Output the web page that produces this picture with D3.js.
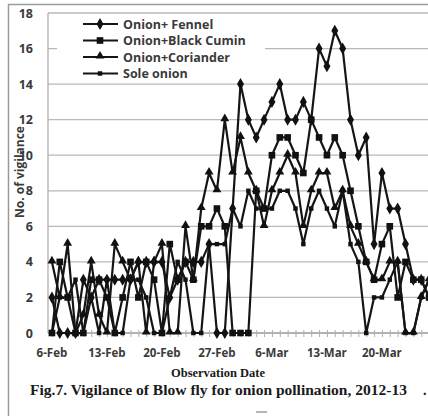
<!DOCTYPE html>
<html lang="en">
<head>
<meta charset="UTF-8">
<title>Vigilance of Blow fly</title>
<style>
    body {
        margin: 0;
        padding: 0;
        background-color: white;
    }
    svg {
        display: block;
    }
    .tick-label {
        font-family: "Open Sans", "Noto Sans", sans-serif;
        font-weight: bold;
        fill: #3a3a3a;
    }
    .serif {
        font-family: "Liberation Serif", "DejaVu Serif", serif;
        font-weight: bold;
        fill: #1a1a1a;
    }
</style>
</head>
<body>
<svg id="chart" width="428" height="416"></svg>

<script src="https://d3js.org/d3.v7.min.js"></script>
<script>
    // observation days, 6-Feb .. 26-Mar (daily)
    const firstDay = new Date(2013, 1, 6);
    const lastDay = new Date(2013, 2, 26);
    const days = d3.timeDay.range(firstDay, d3.timeDay.offset(lastDay, 1));

    const tickLabels = ["6-Feb", "13-Feb", "20-Feb", "27-Feb", "6-Mar", "13-Mar", "20-Mar"];
    const yTicks = [0, 2, 4, 6, 8, 10, 12, 14, 16, 18];

    const seriesNames = ["Onion+ Fennel", "Onion+Black Cumin", "Onion+Coriander", "Sole onion"];

    const fennel = [2, 0, 0, 0, 3, 2, 3, 3, 3, 3, 3, 4, 4, 4, 4, 2, 3, 4, 4, 4,
        5, 0, 0, 7, 14, 12, 11, 12, 13, 14, 12, 12, 13, 12, 16, 15, 17, 16, 12, 10,
        11, 5, 9, 7, 7, 5, 3, 3, 2];
    const blackCumin = [0, 4, 2, 0, 0, 3, 3, 2, 0, 2, 4, 2, 4, 3, 0, 5, 3, 4, 3, 6,
        6, 7, 6, 0, 0, 0, 8, 7, 10, 11, 11, 10, 9, 12, 11, 10, 11, 10, 8, 6,
        4, 3, 5, 6, 2, 4, 3, 3, 2];
    const coriander = [4, 2, 5, 0, 1, 4, 1, 0, 5, 4, 3, 4, 0, 4, 5, 0, 0, 6, 3, 7,
        9, 8, 12, 9, 11, 9, 8, 6, 8, 9, 10, 9, 6, 8, 9, 9, 7, 8, 6, 5,
        4, 3, 3, 4, 4, 0, 0, 2, 3];
    const soleOnion = [0, 2, 2, 3, 0, 2, 0, 3, 0, 0, 3, 3, 2, 0, 0, 2, 4, 3, 0, 0,
        5, 5, 5, 7, 6, 8, 7, 7, 7, 8, 8, 7, 5, 7, 8, 7, 6, 8, 5, 4,
        0, 2, 2, 3, 4, 0, 0, 2, 3];

    const allSeries = [fennel, blackCumin, coriander, soleOnion];
    const symbols = [d3.symbolDiamond, d3.symbolSquare, d3.symbolTriangle, d3.symbolSquare];
    const symbolSizes = [42, 44, 34, 20];

    const svg = d3.select("#chart");
    const plotLeft = 48, plotTop = 13, plotBottom = 333;

    const halfDay = 12 * 3600 * 1000;
    const x = d3.scaleTime()
        .domain([new Date(firstDay - halfDay), new Date(+lastDay + halfDay)])
        .range([plotLeft, 433]);
    const y = d3.scaleLinear().domain([0, 18]).range([plotBottom, plotTop]);

    // outer frame
    svg.append("path")
        .attr("d", "M8.5,416V4.5H428")
        .attr("fill", "none")
        .attr("stroke", "#9a9a9a")
        .attr("stroke-width", 1.5);

    // gridlines
    svg.append("g").selectAll("line")
        .data(yTicks)
        .enter().append("line")
        .attr("x1", plotLeft).attr("x2", 428)
        .attr("y1", d => y(d)).attr("y2", d => y(d))
        .attr("stroke", d => d === 0 ? "#9a9a9a" : "#b9b9b9")
        .attr("stroke-width", 1.3);

    // y axis line
    svg.append("line")
        .attr("x1", plotLeft).attr("x2", plotLeft)
        .attr("y1", plotTop).attr("y2", plotBottom)
        .attr("stroke", "#b0b0b0")
        .attr("stroke-width", 1.3);

    // y axis labels
    svg.append("g").selectAll("text")
        .data(yTicks)
        .enter().append("text")
        .attr("class", "tick-label")
        .attr("x", 33)
        .attr("y", d => y(d) + 4.5)
        .attr("text-anchor", "end")
        .attr("font-size", 12.5)
        .text(d => d);

    // x axis minor ticks (one per day) and labels
    const xAxis = d3.axisBottom(x)
        .tickValues(days.concat([lastDay]))
        .tickSize(4)
        .tickFormat("");
    svg.append("g")
        .attr("transform", `translate(0,${plotBottom})`)
        .call(xAxis)
        .call(g => g.select(".domain").remove())
        .call(g => g.selectAll(".tick line").attr("stroke", "#b0b0b0").attr("y1", -3));

    const labelDays = tickLabels.map((t, i) => d3.timeDay.offset(firstDay, i * 7));
    svg.append("g").selectAll("text")
        .data(labelDays)
        .enter().append("text")
        .attr("class", "tick-label")
        .attr("x", d => x(d))
        .attr("y", 357)
        .attr("text-anchor", "middle")
        .attr("font-size", 11.5)
        .text((d, i) => tickLabels[i]);

    // axis titles
    svg.append("text")
        .attr("class", "tick-label")
        .attr("transform", "translate(24,172) rotate(-90)")
        .attr("text-anchor", "middle")
        .attr("font-size", 12)
        .text("No. of vigilance");

    svg.append("text")
        .attr("class", "serif")
        .attr("x", 218)
        .attr("y", 377)
        .attr("text-anchor", "middle")
        .attr("font-size", 12.5)
        .text("Observation Date");

    svg.append("text")
        .attr("class", "serif")
        .attr("x", 30)
        .attr("y", 395)
        .attr("font-size", 14)
        .attr("textLength", 377)
        .attr("lengthAdjust", "spacingAndGlyphs")
        .text("Fig.7. Vigilance of Blow fly for onion pollination, 2012-13");

    svg.append("text")
        .attr("class", "serif")
        .attr("x", 423)
        .attr("y", 395)
        .attr("font-size", 14)
        .text(".");

    svg.append("line")
        .attr("x1", 256).attr("x2", 267)
        .attr("y1", 412).attr("y2", 412)
        .attr("stroke", "#888")
        .attr("stroke-width", 1.2);

    // legend background hides the gridlines under it
    svg.append("rect")
        .attr("x", 57).attr("y", 15)
        .attr("width", 208).attr("height", 66)
        .attr("fill", "white");

    // series lines and markers
    const line = d3.line()
        .x((d, i) => x(days[i]))
        .y(d => y(d));

    const plot = svg.append("g");
    allSeries.forEach((values, s) => {
        plot.append("path")
            .datum(values)
            .attr("d", line)
            .attr("fill", "none")
            .attr("stroke", "#151515")
            .attr("stroke-width", 2.2)
            .attr("stroke-linejoin", "round");
    });
    allSeries.forEach((values, s) => {
        plot.append("g").selectAll("path")
            .data(values)
            .enter().append("path")
            .attr("transform", (d, i) => {
                const yy = s === 2 ? y(d) - 1 : y(d);
                return `translate(${x(days[i])},${yy})`;
            })
            .attr("d", d3.symbol().type(symbols[s]).size(symbolSizes[s]))
            .attr("fill", "#111");
    });

    // legend
    const legend = svg.append("g");
    seriesNames.forEach((name, s) => {
        const ly = 24 + s * 16.5;
        legend.append("line")
            .attr("x1", 83).attr("x2", 118)
            .attr("y1", ly).attr("y2", ly)
            .attr("stroke", "#151515")
            .attr("stroke-width", 2);
        legend.append("path")
            .attr("transform", `translate(100,${s === 2 ? ly - 1 : ly})`)
            .attr("d", d3.symbol().type(symbols[s]).size(symbolSizes[s]))
            .attr("fill", "#111");
        legend.append("text")
            .attr("class", "tick-label")
            .attr("x", 123)
            .attr("y", ly + 4.5)
            .attr("font-size", 12.5)
            .attr("fill", "#222")
            .text(name);
    });
</script>
</body>
</html>
